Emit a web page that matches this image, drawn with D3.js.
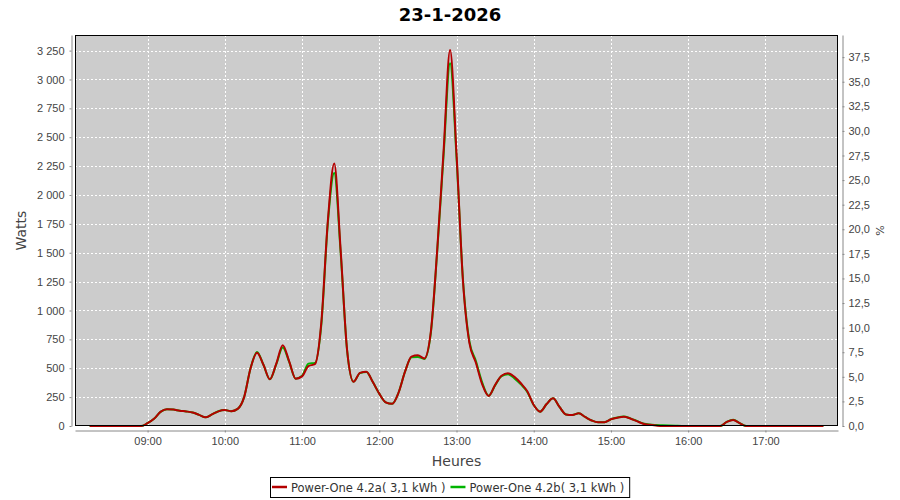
<!DOCTYPE html>
<html>
<head>
<meta charset="utf-8">
<script src="https://cdn.jsdelivr.net/npm/d3@7"></script>
<style>
  body { margin: 0; background: #fff; }
  svg { font-family: "DejaVu Sans", sans-serif; }
  .axis path, .axis line { stroke: #888; }
  .axis text { fill: #444; font-size: 11px; }
</style>
</head>
<body>
<svg id="chart" width="900" height="500"></svg>
<script>
var title = "23-1-2026";

// one row per hour, 5 minute samples
var times = [
  "08:15","08:20","08:25","08:30","08:35","08:40","08:45","08:50","08:55",
  "09:00","09:05","09:10","09:15","09:20","09:25","09:30","09:35","09:40","09:45","09:50","09:55",
  "10:00","10:05","10:10","10:15","10:20","10:25","10:30","10:35","10:40","10:45","10:50","10:55",
  "11:00","11:05","11:10","11:15","11:20","11:25","11:30","11:35","11:40","11:45","11:50","11:55",
  "12:00","12:05","12:10","12:15","12:20","12:25","12:30","12:35","12:40","12:45","12:50","12:55",
  "13:00","13:05","13:10","13:15","13:20","13:25","13:30","13:35","13:40","13:45","13:50","13:55",
  "14:00","14:05","14:10","14:15","14:20","14:25","14:30","14:35","14:40","14:45","14:50","14:55",
  "15:00","15:05","15:10","15:15","15:20","15:25","15:30","15:35","15:40","15:45","15:50","15:55",
  "16:00","16:05","16:10","16:15","16:20","16:25","16:30","16:35","16:40","16:45","16:50","16:55",
  "17:00","17:05","17:10","17:15","17:20","17:25","17:30","17:35","17:40","17:45"
];

var power_a = [
  0,0,0,0,0,0,0,0,0,
  25,62,122,145,142,132,126,117,96,75,100,127,
  138,128,148,250,500,634,530,404,540,700,560,410,
  430,519,535,900,1770,2272,1520,657,383,460,470,380,
  280,205,192,290,470,600,612,585,810,1522,2387,3255,
  2361,1260,720,550,360,260,355,435,456,425,370,300,
  182,124,190,240,165,100,95,110,78,48,32,32,
  58,72,80,65,42,20,10,4,0,0,0,0,
  0,0,0,0,0,0,35,52,25,0,0,0,
  0,0,0,0,0,0,0,0,0,0
];

var power_b = [
  0,0,0,0,0,0,0,0,0,
  25,62,122,146,142,132,126,117,96,75,100,128,
  138,128,148,250,500,640,530,404,535,680,555,410,
  435,540,545,880,1750,2190,1500,655,383,458,468,380,
  280,205,192,290,470,595,598,580,800,1510,2350,3140,
  2330,1270,735,565,375,262,352,432,448,412,360,295,
  182,124,190,240,165,100,95,110,78,48,32,32,
  58,74,82,66,44,22,12,8,6,4,2,0,
  0,0,0,0,0,0,36,55,25,0,0,0,
  0,0,0,0,0,0,0,0,0,0
];

var series_names = ["Power-One 4.2a( 3,1 kWh )", "Power-One 4.2b( 3,1 kWh )"];
var series_colors = ["#b40000", "#00b400"];

var watt_ticks = [0,250,500,750,1000,1250,1500,1750,2000,2250,2500,2750,3000,3250];
var pct_ticks = [0,2.5,5,7.5,10,12.5,15,17.5,20,22.5,25,27.5,30,32.5,35,37.5];
var hour_ticks = ["09:00","10:00","11:00","12:00","13:00","14:00","15:00","16:00","17:00"];

var svg = d3.select("#chart"),
    margin = {top: 35, left: 75, right: 62, bottom: 74},
    width = 900 - margin.left - margin.right,
    height = 500 - margin.top - margin.bottom,
    g = svg.append("g").attr("transform", "translate(" + margin.left + "," + margin.top + ")");

var fr = d3.formatLocale({decimal: ",", thousands: " ", grouping: [3], currency: ["", " €"]});
var parse = d3.timeParse("%H:%M");

var data_a = times.map(function (t, i) { return {t: parse(t), v: power_a[i]}; });
var data_b = times.map(function (t, i) { return {t: parse(t), v: power_b[i]}; });

// 2% margin either side of the data, like the original
var t0 = data_a[0].t, t1 = data_a[data_a.length - 1].t;
var pad = (t1 - t0) * 0.02;

var x = d3.scaleTime()
    .domain([new Date(+t0 - pad), new Date(+t1 + pad)])
    .range([0, width]);

var y = d3.scaleLinear().domain([0, 3385]).range([height, 0]);
var y2 = d3.scaleLinear().domain([0, 39.75]).range([height, 0]);

// plot background
g.append("rect")
    .attr("width", width)
    .attr("height", height)
    .attr("fill", "#cccccc");

// grid
g.append("g")
    .selectAll("line")
    .data(watt_ticks.slice(1))
    .enter()
    .append("line")
    .attr("x1", 0)
    .attr("x2", width)
    .attr("y1", function (d) { return Math.round(y(d)) + 0.5; })
    .attr("y2", function (d) { return Math.round(y(d)) + 0.5; })
    .attr("stroke", "#fff")
    .attr("stroke-dasharray", "2,2");

g.append("g")
    .selectAll("line")
    .data(hour_ticks)
    .enter()
    .append("line")
    .attr("x1", function (d) { return Math.round(x(parse(d))) + 0.5; })
    .attr("x2", function (d) { return Math.round(x(parse(d))) + 0.5; })
    .attr("y1", 0)
    .attr("y2", height)
    .attr("stroke", "#fff")
    .attr("stroke-dasharray", "2,2");

svg.append("clipPath")
    .attr("id", "plotclip")
    .append("rect")
    .attr("width", width)
    .attr("height", height + 1);

var line = d3.line()
    .x(function (d) { return x(d.t); })
    .y(function (d) { return y(d.v); })
    .curve(d3.curveMonotoneX);

// green first so the red one sits on top
g.append("path")
    .datum(data_b)
    .attr("clip-path", "url(#plotclip)")
    .attr("fill", "none")
    .attr("stroke", series_colors[1])
    .attr("stroke-width", 2)
    .attr("d", line);

g.append("path")
    .datum(data_a)
    .attr("clip-path", "url(#plotclip)")
    .attr("fill", "none")
    .attr("stroke", series_colors[0])
    .attr("stroke-width", 2)
    .attr("d", line);

// frame
g.append("rect")
    .attr("x", 0.5)
    .attr("y", 0.5)
    .attr("width", width - 1)
    .attr("height", height - 1)
    .attr("fill", "none")
    .attr("stroke", "#000");

// axes
g.append("g")
    .attr("class", "axis")
    .attr("transform", "translate(-3.5,0)")
    .call(d3.axisLeft(y).tickValues(watt_ticks).tickFormat(fr.format(",d")).tickSize(2).tickSizeOuter(0).tickPadding(5));

g.append("g")
    .attr("class", "axis")
    .attr("transform", "translate(0," + (height + 4.5) + ")")
    .call(d3.axisBottom(x).tickValues(hour_ticks.map(parse)).tickFormat(d3.timeFormat("%H:%M")).tickSize(2).tickSizeOuter(0).tickPadding(5));

g.append("g")
    .attr("class", "axis")
    .attr("transform", "translate(" + (width + 4.5) + ",0)")
    .call(d3.axisRight(y2).tickValues(pct_ticks).tickFormat(fr.format(".1f")).tickSize(2).tickSizeOuter(0).tickPadding(4));

g.selectAll(".axis .domain").attr("stroke", "#888");

// titles
svg.append("text")
    .attr("x", 450)
    .attr("y", 21)
    .attr("text-anchor", "middle")
    .attr("font-weight", "bold")
    .attr("font-size", 18)
    .attr("fill", "#000")
    .text(title);

svg.append("text")
    .attr("transform", "translate(26," + (margin.top + height / 2) + ") rotate(-90)")
    .attr("text-anchor", "middle")
    .attr("font-size", 14)
    .attr("fill", "#444")
    .text("Watts");

svg.append("text")
    .attr("transform", "translate(884," + (margin.top + height / 2) + ") rotate(-90)")
    .attr("text-anchor", "middle")
    .attr("font-size", 11)
    .attr("fill", "#444")
    .text("%");

svg.append("text")
    .attr("x", margin.left + width / 2)
    .attr("y", 466)
    .attr("text-anchor", "middle")
    .attr("font-size", 14)
    .attr("fill", "#444")
    .text("Heures");

// legend
var legend = svg.append("g");
var lx = 0;
series_names.forEach(function (name, i) {
    legend.append("line")
        .attr("x1", lx + 2)
        .attr("x2", lx + 17)
        .attr("y1", 0)
        .attr("y2", 0)
        .attr("stroke", series_colors[i])
        .attr("stroke-width", 2.5);
    var txt = legend.append("text")
        .attr("x", lx + 21)
        .attr("y", 4.5)
        .attr("font-size", 11.5)
        .attr("fill", "#333")
        .text(name);
    lx += 21 + txt.node().getComputedTextLength() + 3;
});
var lw = lx + 2;
legend.insert("rect", ":first-child")
    .attr("x", 0.5)
    .attr("y", -9.5)
    .attr("width", lw)
    .attr("height", 20)
    .attr("fill", "#fff")
    .attr("stroke", "#000");
legend.attr("transform", "translate(" + Math.round(450 - lw / 2) + ",487)");
</script>
</body>
</html>
